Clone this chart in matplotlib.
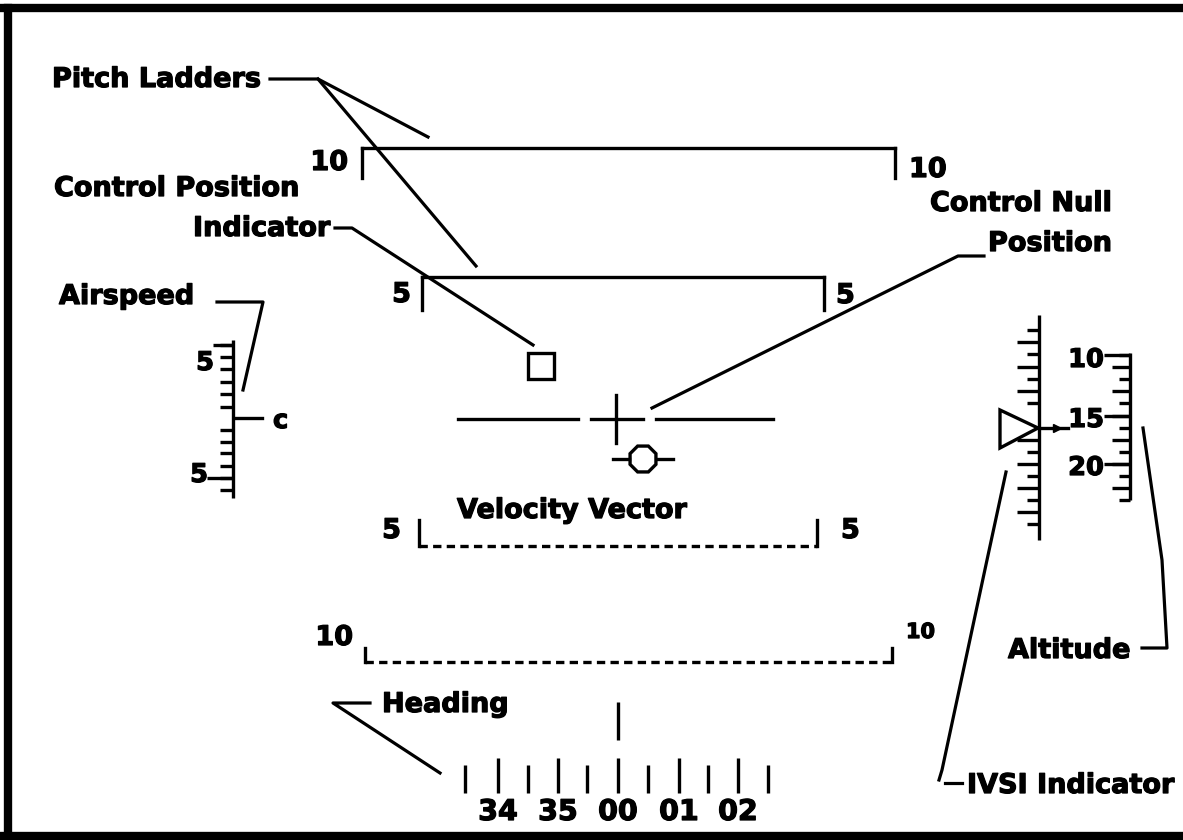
import numpy as np
import matplotlib.pyplot as plt
import matplotlib.patheffects as pe
from matplotlib.patches import Rectangle, RegularPolygon, Polygon

plt.rcParams['lines.scale_dashes'] = False

# Koordinaten in Pixeln des Originalbildes (1183 x 840, y nach unten)
W, H = 1183, 840

# Pitch-Leitern: Beschriftung, Hoehe, linkes/rechtes Ende, Hakenlaenge, gestrichelt
ladder_text = ['10', '5', '5', '10']
ladder_y = [148, 277, 546, 662]
ladder_left = [362, 422, 419, 365]
ladder_right = [895, 824, 817, 892]
ladder_hook = [30, 33, -26, -14]
ladder_dashed = [False, False, True, True]
# Position der Zahlen (links: rechter Rand, rechts: linker Rand) und Grundlinie
ladder_lab_lx = [348, 411, 401, 353]
ladder_lab_ly = [170, 302, 538, 645]
ladder_lab_rx = [909, 836, 841, 906]
ladder_lab_ry = [177, 303, 538, 638]

# Kurs-Skala
heading_labels = ['34', '35', '00', '01', '02']
heading_major = [498, 558, 618, 679, 738]
heading_minor = [465, 528, 587, 648, 708, 768]

# Fahrtmesser
airspeed_ticks = [345, 357, 369, 382, 394, 407, 430, 442, 453, 466, 478, 490]
airspeed_labels = ['5', '5']
airspeed_label_y = [345, 478]
airspeed_label_x = [213, 207]
airspeed_label_base = [370, 482]

# IVSI-Skala
ivsi_ticks = [330, 342, 354, 367, 379, 391, 403, 440, 452, 464, 476, 488, 500, 512, 524]

# Hoehenskala
alt_ticks = [355, 367, 379, 391, 403, 416, 428, 440, 452, 464, 476, 488, 500]
alt_labels = ['10', '15', '20']
alt_label_y = [355, 416, 464]
alt_label_base = [367, 427, 475]

# Beschriftungen: Text, x links, Grundlinie
callouts = [
    ('Pitch Ladders', 52, 87),
    ('Control Position', 54, 196),
    ('Indicator', 193, 236),
    ('Airspeed', 59, 304),
    ('Control Null', 930, 211),
    ('Position', 988, 251),
    ('Velocity Vector', 457, 518),
    ('Heading', 382, 712),
    ('Altitude', 1008, 658),
    ('IVSI Indicator', 967, 793),
]

# Hinweislinien
leaders = [
    [(270, 79), (318, 79), (428, 137)],
    [(318, 79), (476, 266)],
    [(335, 228), (352, 228), (533, 345)],
    [(217, 302), (263, 302), (243, 390)],
    [(984, 256), (958, 256), (652, 408)],
    [(370, 703), (333, 703), (440, 773)],
    [(1142, 648), (1167, 648), (1162, 560), (1143, 428)],
    [(1006, 472), (987, 560), (942, 770), (939, 780)],
    [(945, 783), (962, 783)],
]

LW = 2.4
FS = 19.5
fig = plt.figure(figsize=(W / 100, H / 100), dpi=100)
ax = fig.add_axes([0, 0, 1, 1])
ax.set_xlim(0, W)
ax.set_ylim(H, 0)
ax.axis('off')

heavy = [pe.withStroke(linewidth=0.9, foreground='black')]

def txt(x, y, s, ha='left', size=FS):
    ax.text(x, y, s, ha=ha, va='baseline', fontsize=size, fontweight='bold',
            family='DejaVu Sans', color='black', path_effects=heavy)

# Rahmen
ax.plot([8, 8], [8, 836], color='black', lw=6, solid_capstyle='projecting')
ax.plot([4, W], [8, 8], color='black', lw=6)
ax.plot([4, W], [836, 836], color='black', lw=6)

# Pitch-Leitern
for i in range(len(ladder_y)):
    y = ladder_y[i]
    ls = (0, (6.0, 3.8)) if ladder_dashed[i] else '-'
    ax.plot([ladder_left[i], ladder_right[i]], [y, y], color='black', lw=LW, ls=ls)
    ax.plot([ladder_left[i], ladder_left[i]], [y, y + ladder_hook[i]], color='black', lw=LW)
    ax.plot([ladder_right[i], ladder_right[i]], [y, y + ladder_hook[i]], color='black', lw=LW)
    txt(ladder_lab_lx[i], ladder_lab_ly[i], ladder_text[i], ha='right')
    rsize = 15 if i == 3 else FS
    txt(ladder_lab_rx[i], ladder_lab_ry[i], ladder_text[i], size=rsize)

# Steuerpositionsanzeige
ax.add_patch(Rectangle((528, 353), 26, 26, fill=False, lw=LW, ec='black'))

# Horizontlinie und Kreuz
ax.plot([458, 578], [419, 419], color='black', lw=LW)
ax.plot([656, 773], [419, 419], color='black', lw=LW)
ax.plot([591, 643], [419, 419], color='black', lw=LW)
ax.plot([616, 616], [395, 443], color='black', lw=LW)

# Geschwindigkeitsvektor
ax.add_patch(RegularPolygon((643, 459), 8, radius=14, orientation=np.pi / 8,
                            fill=False, lw=LW, ec='black'))
ax.plot([613, 629], [459, 459], color='black', lw=LW)
ax.plot([657, 673], [459, 459], color='black', lw=LW)

# Kurs-Skala
ax.vlines(618, 702, 740, color='black', lw=LW)
ax.vlines(heading_major, 758, 793, color='black', lw=LW)
ax.vlines(heading_minor, 765, 793, color='black', lw=LW)
for x, s in zip(heading_major, heading_labels):
    txt(x, 820, s, ha='center', size=20.5)

# Fahrtmesser
ax.vlines(233, 340, 498, color='black', lw=LW)
ax.hlines(airspeed_ticks, 220, 233, color='black', lw=LW)
for s, ty, lx, base in zip(airspeed_labels, airspeed_label_y, airspeed_label_x, airspeed_label_base):
    ax.hlines(ty, lx, 233, color='black', lw=LW)
    txt(lx + 1, base, s, ha='right', size=18.5)
ax.plot([235, 262], [418, 418], color='black', lw=LW)
txt(273, 428, 'c', size=18.5)

# IVSI-Skala
ax.vlines(1039, 315, 540, color='black', lw=LW)
for k, ty in enumerate(ivsi_ticks):
    x0 = 1017 if k % 2 == 1 else 1027
    ax.hlines(ty, x0, 1039, color='black', lw=LW)
ax.add_patch(Polygon([(1000, 410), (1000, 448), (1038, 428)], closed=True,
                     fill=False, lw=LW, ec='black'))
ax.plot([1039, 1068], [428, 428], color='black', lw=LW)
ax.plot([1057], [428], marker='>', color='black', markersize=6)

# Hoehenskala
ax.vlines(1130, 353, 500, color='black', lw=LW)
for k, ty in enumerate(alt_ticks):
    x0 = 1112 if k % 2 == 1 else 1119
    ax.hlines(ty, x0, 1130, color='black', lw=LW)
for s, ty, base in zip(alt_labels, alt_label_y, alt_label_base):
    ax.hlines(ty, 1104, 1130, color='black', lw=LW)
    txt(1104, base, s, ha='right', size=18.5)

# Hinweislinien und Beschriftungen
for pts in leaders:
    xs, ys = zip(*pts)
    ax.plot(xs, ys, color='black', lw=2.3)
for s, x, y in callouts:
    txt(x, y, s)

fig.savefig('out.png', dpi=100, facecolor='white')
